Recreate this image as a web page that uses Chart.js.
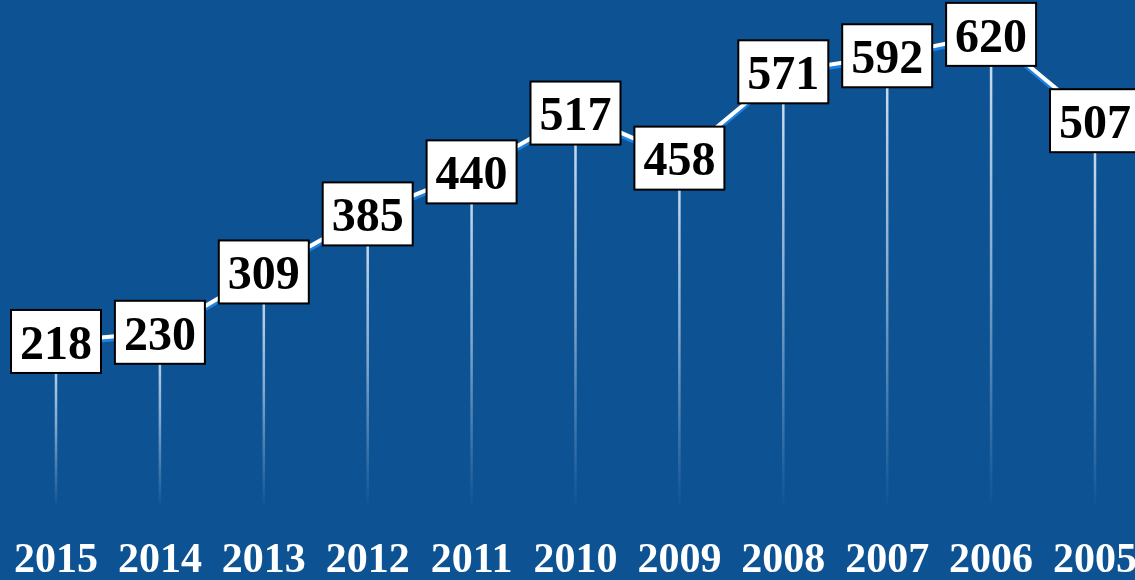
<!DOCTYPE html>
<html>
<head>
<meta charset="utf-8">
<script src="https://cdn.jsdelivr.net/npm/chart.js@4"></script>
<style>
  html, body { margin: 0; padding: 0; background: #0d5394; }
  #wrap { width: 1135px; height: 580px; position: relative; }
</style>
</head>
<body>
<div id="wrap"><canvas id="c"></canvas></div>
<script>
const years = ['2015','2014','2013','2012','2011','2010','2009','2008','2007','2006','2005'];
const values = [218, 230, 309, 385, 440, 517, 458, 571, 592, 620, 507];

const BG = '#0d5394';
const FONT = '"Liberation Serif", "Times New Roman", serif';

const bgPlugin = {
  id: 'bg',
  beforeDraw(chart) {
    const ctx = chart.ctx;
    ctx.save();
    ctx.fillStyle = BG;
    ctx.fillRect(0, 0, chart.width, chart.height);
    ctx.restore();
  }
};

const dropLines = {
  id: 'dropLines',
  beforeDatasetsDraw(chart) {
    const ctx = chart.ctx;
    const meta = chart.getDatasetMeta(0);
    const yBase = chart.scales.y.getPixelForValue(0);
    ctx.save();
    meta.data.forEach(pt => {
      const g = ctx.createLinearGradient(0, pt.y, 0, yBase);
      g.addColorStop(0, 'rgba(225,235,248,0.95)');
      g.addColorStop(0.5, 'rgba(210,225,245,0.6)');
      g.addColorStop(1, 'rgba(200,218,242,0.0)');
      ctx.strokeStyle = g;
      ctx.lineWidth = 2.5;
      ctx.beginPath();
      ctx.moveTo(pt.x, pt.y);
      ctx.lineTo(pt.x, yBase);
      ctx.stroke();
    });
    ctx.restore();
  }
};

const lineShadow = {
  id: 'lineShadow',
  beforeDatasetDraw(chart) {
    const ctx = chart.ctx;
    ctx.save();
    ctx.shadowColor = 'rgb(30,128,225)';
    ctx.shadowOffsetX = 0;
    ctx.shadowOffsetY = 3;
    ctx.shadowBlur = 0;
  },
  afterDatasetDraw(chart) {
    chart.ctx.restore();
  }
};

const boxLabels = {
  id: 'boxLabels',
  afterDatasetsDraw(chart) {
    const ctx = chart.ctx;
    const meta = chart.getDatasetMeta(0);
    const fs = 48;
    ctx.save();
    ctx.font = 'bold ' + fs + 'px ' + FONT;
    meta.data.forEach((pt, i) => {
      const txt = String(values[i]);
      const tw = ctx.measureText(txt).width;
      const w = tw + 18;
      const h = 63;
      const x0 = pt.x - w / 2, y0 = pt.y - h / 2;
      ctx.fillStyle = '#ffffff';
      ctx.fillRect(x0, y0, w, h);
      ctx.strokeStyle = '#000000';
      ctx.lineWidth = 2;
      ctx.strokeRect(x0, y0, w, h);
      ctx.fillStyle = '#000000';
      ctx.textAlign = 'center';
      ctx.textBaseline = 'alphabetic';
      ctx.fillText(txt, pt.x, pt.y + fs * 0.36);
    });
    ctx.restore();
  }
};

new Chart(document.getElementById('c'), {
  type: 'line',
  data: {
    labels: years,
    datasets: [{
      data: values,
      borderColor: '#ffffff',
      borderWidth: 4,
      pointRadius: 0,
      tension: 0,
      fill: false
    }]
  },
  options: {
    responsive: true,
    maintainAspectRatio: false,
    animation: false,
    layout: { padding: { left: 56, right: 40, top: 0, bottom: 0 } },
    plugins: { legend: { display: false }, tooltip: { enabled: false } },
    scales: {
      x: {
        offset: false,
        grid: { display: false, drawTicks: false },
        border: { display: false },
        afterFit(scale) {
          scale.height = 72;
          scale.paddingLeft = 0;
          scale.paddingRight = 0;
        },
        ticks: {
          color: '#ffffff',
          autoSkip: false,
          maxRotation: 0,
          padding: 28,
          font: { family: FONT, size: 42, weight: 'bold', lineHeight: 1.2 }
        }
      },
      y: {
        display: false,
        min: 0,
        max: 665
      }
    }
  },
  plugins: [bgPlugin, dropLines, lineShadow, boxLabels]
});
</script>
</body>
</html>
